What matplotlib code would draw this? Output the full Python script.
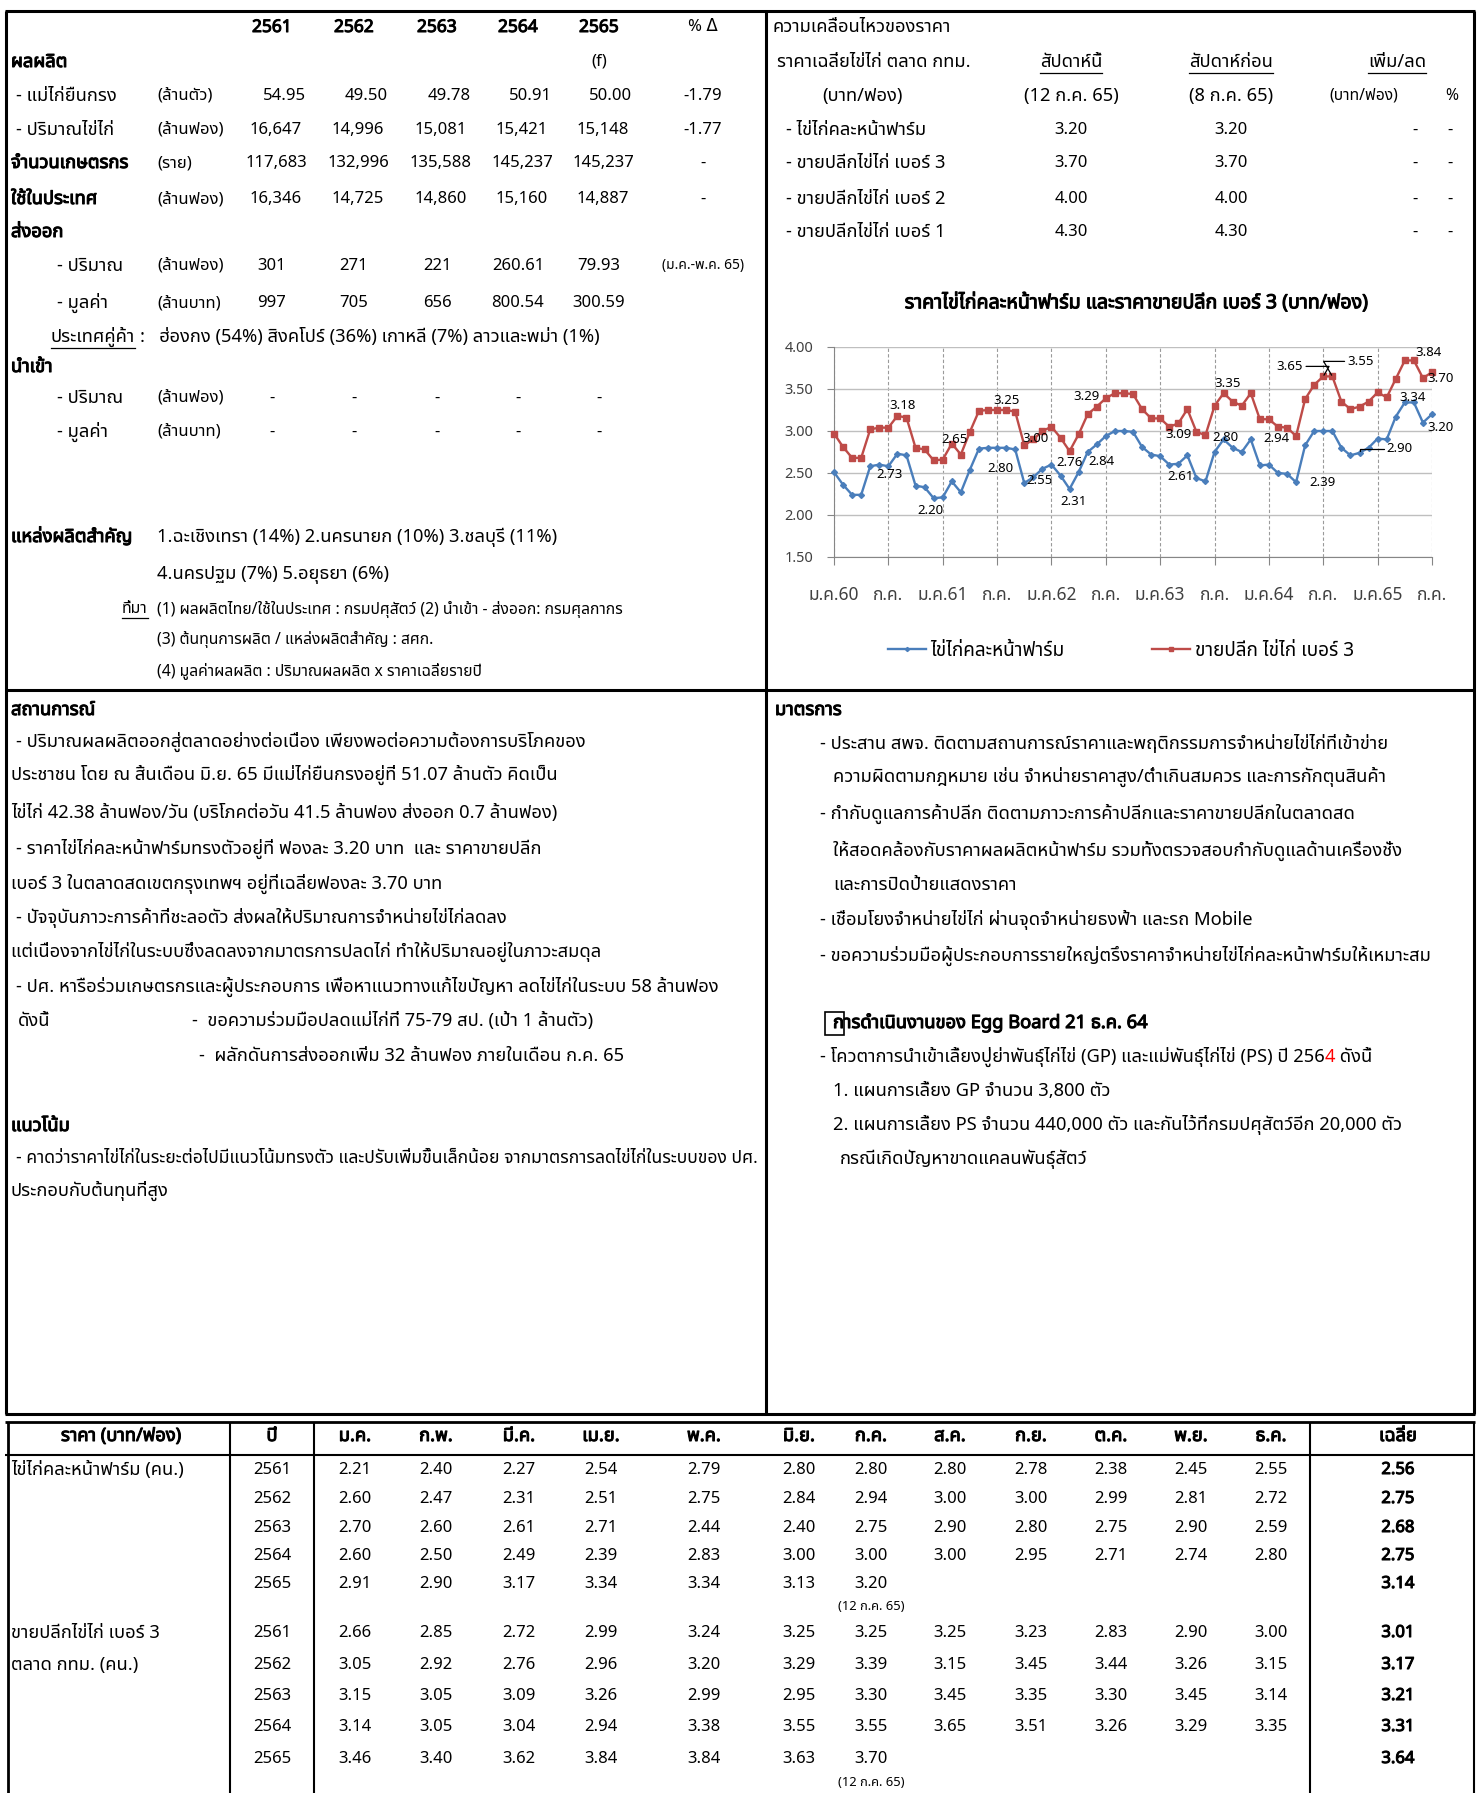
import matplotlib
matplotlib.use("Agg")
import matplotlib.pyplot as plt
import matplotlib.patheffects as pe
from matplotlib import font_manager
from matplotlib.ft2font import FT2Font
from matplotlib.patches import Rectangle


def thai_fonts():
    # หาฟอนต์ที่มีตัวอักษรไทย (ชื่อ, น้ำหนัก)
    found = []
    for f in font_manager.fontManager.ttflist:
        try:
            if FT2Font(f.fname).get_char_index(0x0E01):
                w = f.weight
                if isinstance(w, str):
                    w = font_manager.weight_dict.get(w, 400)
                found.append((f.name, w))
        except Exception:
            pass
    return found


found = thai_fonts()
names = [n for n, w in found]
THAI = "DejaVu Sans"
for p in ["Tahoma", "Leelawadee UI", "Noto Sans Thai", "Noto Sans Thai UI",
          "Sarabun", "Garuda", "Loma", "Waree", "Norasi"]:
    if p in names:
        THAI = p
        break
else:
    if names:
        THAI = names[0]
HAS_BOLD = any(n == THAI and w >= 600 for n, w in found)
plt.rcParams["font.family"] = [THAI, "DejaVu Sans"]

# ---------------- ข้อมูล ----------------
years = ["2561", "2562", "2563", "2564", "2565"]
layer_hens = ["54.95", "49.50", "49.78", "50.91", "50.00"]
egg_output = ["16,647", "14,996", "15,081", "15,421", "15,148"]
farmers = ["117,683", "132,996", "135,588", "145,237", "145,237"]
domestic_use = ["16,346", "14,725", "14,860", "15,160", "14,887"]
export_qty = ["301", "271", "221", "260.61", "79.93"]
export_val = ["997", "705", "656", "800.54", "300.59"]
import_qty = ["-", "-", "-", "-", "-"]
import_val = ["-", "-", "-", "-", "-"]

week_items = ["- ไข่ไก่คละหน้าฟาร์ม", "- ขายปลีกไข่ไก่ เบอร์ 3",
              "- ขายปลีกไข่ไก่ เบอร์ 2", "- ขายปลีกไข่ไก่ เบอร์ 1"]
this_week = [3.20, 3.70, 4.00, 4.30]
last_week = [3.20, 3.70, 4.00, 4.30]

# กราฟ ม.ค.60 - ก.ค.65 (อ่านจากกราฟ)
farm_chart = [
    2.51, 2.36, 2.24, 2.24, 2.58, 2.60, 2.58, 2.73, 2.71, 2.35, 2.33, 2.20,  # 2560
    2.21, 2.40, 2.27, 2.54, 2.79, 2.80, 2.80, 2.80, 2.78, 2.38, 2.45, 2.55,  # 2561
    2.60, 2.47, 2.31, 2.51, 2.75, 2.84, 2.94, 3.00, 3.00, 2.99, 2.81, 2.72,  # 2562
    2.70, 2.60, 2.61, 2.71, 2.44, 2.40, 2.75, 2.90, 2.80, 2.75, 2.90, 2.59,  # 2563
    2.60, 2.50, 2.49, 2.39, 2.83, 3.00, 3.00, 3.00, 2.80, 2.71, 2.74, 2.80,  # 2564
    2.91, 2.90, 3.17, 3.34, 3.34, 3.10, 3.20,                                # 2565
]
retail_chart = [
    2.97, 2.81, 2.68, 2.68, 3.02, 3.04, 3.04, 3.18, 3.16, 2.80, 2.78, 2.65,
    2.66, 2.85, 2.72, 2.99, 3.24, 3.25, 3.25, 3.25, 3.23, 2.83, 2.90, 3.00,
    3.05, 2.92, 2.76, 2.96, 3.20, 3.29, 3.39, 3.45, 3.45, 3.44, 3.26, 3.15,
    3.15, 3.05, 3.09, 3.26, 2.99, 2.95, 3.30, 3.45, 3.35, 3.30, 3.45, 3.14,
    3.14, 3.05, 3.04, 2.94, 3.38, 3.55, 3.65, 3.65, 3.35, 3.26, 3.29, 3.35,
    3.46, 3.40, 3.62, 3.84, 3.84, 3.63, 3.70,
]
xtick_labels = ["ม.ค.60", "ก.ค.", "ม.ค.61", "ก.ค.", "ม.ค.62", "ก.ค.",
                "ม.ค.63", "ก.ค.", "ม.ค.64", "ก.ค.", "ม.ค.65", "ก.ค."]
# (เดือนที่, ข้อความ, dx, dy) ป้ายข้อมูลบนกราฟ
farm_labels = [(7, "2.73", -8, -21), (11, "2.20", -3, -12), (18, "2.80", 3, -21),
               (23, "2.55", -3, -12), (26, "2.31", 4, -13), (29, "2.84", 5, -17),
               (38, "2.61", 2, -13), (44, "2.80", -7, 10), (51, "2.39", 26, 0),
               (63, "3.34", 8, 5), (66, "3.20", 9, -13)]
retail_labels = [(7, "3.18", 5, 10), (12, "2.65", 12, 20), (18, "3.25", 9, 9),
                 (23, "3.00", -7, -8), (26, "2.76", 0, -11), (29, "3.29", -10, 10),
                 (38, "3.09", 0, -11), (44, "3.35", -5, 18), (51, "2.94", -20, -2),
                 (64, "3.84", 15, 8), (66, "3.70", 9, -6)]

months = ["ม.ค.", "ก.พ.", "มี.ค.", "เม.ย.", "พ.ค.", "มิ.ย.", "ก.ค.", "ส.ค.",
          "ก.ย.", "ต.ค.", "พ.ย.", "ธ.ค."]
farm_table = [
    [2.21, 2.40, 2.27, 2.54, 2.79, 2.80, 2.80, 2.80, 2.78, 2.38, 2.45, 2.55],
    [2.60, 2.47, 2.31, 2.51, 2.75, 2.84, 2.94, 3.00, 3.00, 2.99, 2.81, 2.72],
    [2.70, 2.60, 2.61, 2.71, 2.44, 2.40, 2.75, 2.90, 2.80, 2.75, 2.90, 2.59],
    [2.60, 2.50, 2.49, 2.39, 2.83, 3.00, 3.00, 3.00, 2.95, 2.71, 2.74, 2.80],
    [2.91, 2.90, 3.17, 3.34, 3.34, 3.13, 3.20],
]
farm_avg = [2.56, 2.75, 2.68, 2.75, 3.14]
retail_table = [
    [2.66, 2.85, 2.72, 2.99, 3.24, 3.25, 3.25, 3.25, 3.23, 2.83, 2.90, 3.00],
    [3.05, 2.92, 2.76, 2.96, 3.20, 3.29, 3.39, 3.15, 3.45, 3.44, 3.26, 3.15],
    [3.15, 3.05, 3.09, 3.26, 2.99, 2.95, 3.30, 3.45, 3.35, 3.30, 3.45, 3.14],
    [3.14, 3.05, 3.04, 2.94, 3.38, 3.55, 3.55, 3.65, 3.51, 3.26, 3.29, 3.35],
    [3.46, 3.40, 3.62, 3.84, 3.84, 3.63, 3.70],
]
retail_avg = [3.01, 3.17, 3.21, 3.31, 3.64]

# ---------------- หน้ากระดาษ ----------------
W, H = 1477, 1793
fig = plt.figure(figsize=(W / 100, H / 100), dpi=100)
cv = fig.add_axes([0, 0, 1, 1])
cv.set_xlim(0, W)
cv.set_ylim(H, 0)
cv.axis("off")
renderer = fig.canvas.get_renderer()
FS = 13.2   # ข้อความไทย
NUM = 12    # ตัวเลข
SM = 11.3


def txt(x, y, s, size=FS, ha="left", bold=False, color="black"):
    kw = {}
    if bold:
        kw["fontweight"] = "bold"
        if not HAS_BOLD:
            kw["path_effects"] = [pe.withStroke(linewidth=0.75, foreground=color)]
    return cv.text(x, y, s, fontsize=size, ha=ha, va="center", color=color, **kw)


def right_edge(t):
    bb = t.get_window_extent(renderer)
    return cv.transData.inverted().transform((bb.x1, bb.y0))[0]


def fit_right(t, x_right):
    # ปรับขนาดตัวอักษรให้ข้อความจบที่ x_right
    x0 = t.get_position()[0]
    for _ in range(3):
        w = right_edge(t) - x0
        t.set_fontsize(t.get_fontsize() * (x_right - x0) / w)


def underline(t, dy=11):
    bb = t.get_window_extent(renderer)
    inv = cv.transData.inverted()
    x0 = inv.transform((bb.x0, bb.y0))[0]
    x1 = inv.transform((bb.x1, bb.y0))[0]
    y = t.get_position()[1] + dy
    cv.plot([x0, x1], [y, y], color="black", lw=0.9)


def chain(x, y, parts, size=FS):
    for s, c in parts:
        t = txt(x, y, s, size=size, color=c)
        x = right_edge(t)


def hline(y, x0, x1, lw=2.2):
    cv.plot([x0, x1], [y, y], color="black", lw=lw, solid_capstyle="butt")


def vline(x, y0, y1, lw=2.2):
    cv.plot([x, x], [y0, y1], color="black", lw=lw, solid_capstyle="butt")


# กรอบ
hline(11, 5, 1475)
hline(690, 5, 1475)
hline(1414, 5, 1475)
vline(6, 11, 1414)
vline(766, 11, 1414)
vline(1474, 11, 1414)

# ---------------- ตารางซ้ายบน ----------------
cols = [272, 354, 437, 518, 599]
pct_x = 703
for x, y in zip(cols, years):
    txt(x, 27, y, size=NUM + 0.5, ha="center", bold=True)
txt(pct_x, 27, "% Δ", size=NUM, ha="center")
txt(11, 62, "ผลผลิต", bold=True)
txt(cols[4], 62, "(f)", size=NUM, ha="center")

rows = [
    (96, "- แม่ไก่ยืนกรง", 16, False, "(ล้านตัว)", layer_hens, "-1.79", 12),
    (130, "- ปริมาณไข่ไก่", 16, False, "(ล้านฟอง)", egg_output, "-1.77", 4),
    (163, "จำนวนเกษตรกร", 11, True, "(ราย)", farmers, "-", 4),
    (199, "ใช้ในประเทศ", 11, True, "(ล้านฟอง)", domestic_use, "-", 4),
    (266, "- ปริมาณ", 57, False, "(ล้านฟอง)", export_qty, None, 0),
    (303, "- มูลค่า", 57, False, "(ล้านบาท)", export_val, None, 0),
    (398, "- ปริมาณ", 57, False, "(ล้านฟอง)", import_qty, None, 0),
    (432, "- มูลค่า", 57, False, "(ล้านบาท)", import_val, None, 0),
]
for y, label, lx, bold, unit, vals, pct, shift in rows:
    txt(lx, y, label, bold=bold)
    txt(157, y, unit, size=NUM)
    for x, v in zip(cols, vals):
        txt(x + shift, y, v, size=NUM, ha="center")
    if pct:
        txt(pct_x, y, pct, size=NUM, ha="center")
txt(11, 232, "ส่งออก", bold=True)
txt(pct_x, 266, "(ม.ค.-พ.ค. 65)", size=9.9, ha="center")
t = txt(51, 337, "ประเทศคู่ค้า")
underline(t)
txt(right_edge(t) + 5, 337, ":   ฮ่องกง (54%) สิงคโปร์ (36%) เกาหลี (7%) ลาวและพม่า (1%)")
txt(11, 367, "นำเข้า", bold=True)
txt(11, 537, "แหล่งผลิตสำคัญ", bold=True)
txt(157, 537, "1.ฉะเชิงเทรา (14%) 2.นครนายก (10%) 3.ชลบุรี (11%)")
txt(157, 575, "4.นครปฐม (7%) 5.อยุธยา (6%)")
t = txt(122, 609, "ที่มา", size=SM)
underline(t, 9)
txt(157, 609, "(1) ผลผลิตไทย/ใช้ในประเทศ : กรมปศุสัตว์ (2) นำเข้า - ส่งออก: กรมศุลกากร", size=SM)
txt(157, 640, "(3) ต้นทุนการผลิต / แหล่งผลิตสำคัญ : สศก.", size=SM)
txt(157, 671, "(4) มูลค่าผลผลิต : ปริมาณผลผลิต x ราคาเฉลี่ยรายปี", size=SM)

# ---------------- ขวาบน ----------------
txt(772, 27, "ความเคลื่อนไหวของราคา")
txt(777, 62, "ราคาเฉลี่ยไข่ไก่ ตลาด กทม.")
for x, s in [(1071, "สัปดาห์นี้"), (1231, "สัปดาห์ก่อน"), (1397, "เพิ่ม/ลด")]:
    underline(txt(x, 62, s, ha="center"))
txt(862, 96, "(บาท/ฟอง)", ha="center")
txt(1071, 96, "(12 ก.ค. 65)", ha="center")
txt(1231, 96, "(8 ก.ค. 65)", ha="center")
txt(1364, 96, "(บาท/ฟอง)", size=SM, ha="center")
txt(1452, 96, "%", size=SM, ha="center")
for y, item, a, b in zip([130, 163, 199, 232], week_items, this_week, last_week):
    txt(786, y, item)
    txt(1071, y, f"{a:.2f}", size=NUM, ha="center")
    txt(1231, y, f"{b:.2f}", size=NUM, ha="center")
    txt(1415, y, "-", size=NUM, ha="center")
    txt(1450, y, "-", size=NUM, ha="center")
txt(1137, 303, "ราคาไข่ไก่คละหน้าฟาร์ม และราคาขายปลีก เบอร์ 3 (บาท/ฟอง)",
    size=14.1, ha="center", bold=True)

# ---------------- กราฟ ----------------
BLUE = "#4a7ebb"
RED = "#be4b48"
ax = fig.add_axes([834 / W, 1 - 557 / H, 598 / W, (557 - 347) / H])
x = list(range(len(farm_chart)))
ax.plot(x, farm_chart, color=BLUE, lw=1.7, marker="D", ms=3, clip_on=False,
        label="ไข่ไก่คละหน้าฟาร์ม", zorder=3)
ax.plot(x, retail_chart, color=RED, lw=1.7, marker="s", ms=4.5, clip_on=False,
        label="ขายปลีก ไข่ไก่ เบอร์ 3", zorder=3)
ax.set_xlim(0, 66)
ax.set_ylim(1.5, 4.0)
ax.set_yticks([1.5, 2.0, 2.5, 3.0, 3.5, 4.0])
ax.set_yticklabels([f"{v:.2f}" for v in [1.5, 2.0, 2.5, 3.0, 3.5, 4.0]])
ax.set_xticks(range(0, 67, 6))
ax.set_xticklabels(xtick_labels)
ax.tick_params(axis="y", length=5, pad=10, labelsize=10.5, colors="#868686", labelcolor="#404040")
ax.tick_params(axis="x", length=6, pad=15, labelsize=12.5, colors="#868686", labelcolor="#404040")
ax.grid(axis="y", color="#bfbfbf", lw=1)
ax.grid(axis="x", color="#9a9a9a", lw=0.8, ls=(0, (3, 2)))
ax.set_axisbelow(True)
for s in ["top", "right"]:
    ax.spines[s].set_visible(False)
for s in ["left", "bottom"]:
    ax.spines[s].set_color("#868686")
ax.patch.set_alpha(0)

for series, labels in [(farm_chart, farm_labels), (retail_chart, retail_labels)]:
    for i, s, dx, dy in labels:
        ax.annotate(s, (i, series[i]), xytext=(dx, dy), textcoords="offset pixels",
                    ha="center", va="center", fontsize=9.5, annotation_clip=False)
# ป้ายที่มีเส้นโยง
lead = dict(arrowstyle="-", color="black", lw=0.9, shrinkA=0, shrinkB=1)
ax.annotate("2.90", (58, farm_chart[58]), xytext=(27, 4), textcoords="offset pixels",
            ha="left", va="center", fontsize=9.5, annotation_clip=False,
            arrowprops=dict(lead, connectionstyle="angle,angleA=0,angleB=90,rad=0"))
ax.annotate("3.65", (54, retail_chart[54]), xytext=(-20, 10), textcoords="offset pixels",
            ha="right", va="center", fontsize=9.5, annotation_clip=False,
            arrowprops=dict(lead, connectionstyle="angle,angleA=0,angleB=60,rad=0"))
ax.annotate("3.55", (55, retail_chart[55]), xytext=(15, 15), textcoords="offset pixels",
            ha="left", va="center", fontsize=9.5, annotation_clip=False,
            arrowprops=dict(lead, connectionstyle="angle,angleA=0,angleB=120,rad=0"))

ax.legend(loc="center", bbox_to_anchor=(1121 / W, 1 - 651 / H), bbox_transform=fig.transFigure,
          ncol=2, frameon=False, fontsize=13.7, handlelength=2.0, handletextpad=0.25,
          columnspacing=4.6, markerscale=0.7)

# ---------------- สถานการณ์ ----------------
txt(11, 710, "สถานการณ์", bold=True)
situation = [
    (742, 16, "- ปริมาณผลผลิตออกสู่ตลาดอย่างต่อเนื่อง เพียงพอต่อความต้องการบริโภคของ"),
    (775, 11, "ประชาชน โดย ณ สิ้นเดือน มิ.ย. 65 มีแม่ไก่ยืนกรงอยู่ที่ 51.07 ล้านตัว คิดเป็น"),
    (813, 11, "ไข่ไก่ 42.38 ล้านฟอง/วัน (บริโภคต่อวัน 41.5 ล้านฟอง ส่งออก 0.7 ล้านฟอง)"),
    (849, 16, "- ราคาไข่ไก่คละหน้าฟาร์มทรงตัวอยู่ที่ ฟองละ 3.20 บาท  และ ราคาขายปลีก"),
    (884, 11, "เบอร์ 3 ในตลาดสดเขตกรุงเทพฯ อยู่ที่เฉลี่ยฟองละ 3.70 บาท"),
    (918, 16, "- ปัจจุบันภาวะการค้าที่ชะลอตัว ส่งผลให้ปริมาณการจำหน่ายไข่ไก่ลดลง"),
    (952, 11, "แต่เนื่องจากไข่ไก่ในระบบซึ่งลดลงจากมาตรการปลดไก่ ทำให้ปริมาณอยู่ในภาวะสมดุล"),
    (987, 16, "- ปศ. หารือร่วมเกษตรกรและผู้ประกอบการ เพื่อหาแนวทางแก้ไขปัญหา ลดไข่ไก่ในระบบ 58 ล้านฟอง"),
    (1021, 18, "ดังนี้"),
    (1021, 192, "-  ขอความร่วมมือปลดแม่ไก่ที่ 75-79 สป. (เป้า 1 ล้านตัว)"),
    (1056, 199, "-  ผลักดันการส่งออกเพิ่ม 32 ล้านฟอง ภายในเดือน ก.ค. 65"),
]
for y, x0, s in situation:
    txt(x0, y, s)
txt(11, 1126, "แนวโน้ม", bold=True)
t = txt(16, 1158, "- คาดว่าราคาไข่ไก่ในระยะต่อไปมีแนวโน้มทรงตัว และปรับเพิ่มขึ้นเล็กน้อย จากมาตรการลดไข่ไก่ในระบบของ ปศ.")
fit_right(t, 758)
txt(11, 1191, "ประกอบกับต้นทุนที่สูง")

# ---------------- มาตรการ ----------------
txt(775, 710, "มาตรการ", bold=True)
measures = [
    (743, 820, "- ประสาน สพจ. ติดตามสถานการณ์ราคาและพฤติกรรมการจำหน่ายไข่ไก่ที่เข้าข่าย"),
    (777, 833, "ความผิดตามกฎหมาย เช่น จำหน่ายราคาสูง/ต่ำเกินสมควร และการกักตุนสินค้า"),
    (814, 820, "- กำกับดูแลการค้าปลีก ติดตามภาวะการค้าปลีกและราคาขายปลีกในตลาดสด"),
    (851, 833, "ให้สอดคล้องกับราคาผลผลิตหน้าฟาร์ม รวมทั้งตรวจสอบกำกับดูแลด้านเครื่องชั่ง"),
    (885, 833, "และการปิดป้ายแสดงราคา"),
    (920, 820, "- เชื่อมโยงจำหน่ายไข่ไก่ ผ่านจุดจำหน่ายธงฟ้า และรถ Mobile"),
    (956, 820, "- ขอความร่วมมือผู้ประกอบการรายใหญ่ตรึงราคาจำหน่ายไข่ไก่คละหน้าฟาร์มให้เหมาะสม"),
    (1091, 833, "1. แผนการเลี้ยง GP จำนวน 3,800 ตัว"),
    (1125, 833, "2. แผนการเลี้ยง PS จำนวน 440,000 ตัว และกันไว้ที่กรมปศุสัตว์อีก 20,000 ตัว"),
    (1159, 840, "กรณีเกิดปัญหาขาดแคลนพันธุ์สัตว์"),
]
for y, x0, s in measures:
    txt(x0, y, s)
txt(833, 1023, "การดำเนินงานของ Egg Board 21 ธ.ค. 64", bold=True)
cv.add_patch(Rectangle((825, 1012), 19, 23, fill=False, ec="black", lw=1.2))
chain(820, 1057, [("- โควตาการนำเข้าเลี้ยงปู่ย่าพันธุ์ไก่ไข่ (GP) และแม่พันธุ์ไก่ไข่ (PS) ปี 256", "black"),
                  ("4", "red"), (" ดังนี้", "black")])

# ---------------- ตารางราคารายเดือน ----------------
hline(1422, 5, 1475, lw=2)
hline(1455, 5, 1475, lw=1.5)
vline(8, 1422, 1793, lw=2)
vline(230, 1422, 1793, lw=1.5)
vline(314, 1422, 1793, lw=1.5)
vline(1310, 1422, 1793, lw=1.5)
vline(1474, 1422, 1793, lw=1.5)
mcols = [355, 436, 519, 601, 704, 799, 871, 950, 1031, 1111, 1191, 1271]
txt(121, 1436, "ราคา (บาท/ฟอง)", ha="center", bold=True)
txt(272, 1436, "ปี", ha="center", bold=True)
for x, m in zip(mcols, months):
    txt(x, 1436, m, ha="center", bold=True)
txt(1398, 1436, "เฉลี่ย", ha="center", bold=True)

farm_y = [1470, 1499, 1528, 1556, 1584]
retail_y = [1633, 1665, 1696, 1727, 1759]
txt(11, farm_y[0], "ไข่ไก่คละหน้าฟาร์ม (คน.)")
txt(11, retail_y[0], "ขายปลีกไข่ไก่ เบอร์ 3")
txt(11, retail_y[1], "ตลาด กทม. (คน.)")
for ys, table, avg in [(farm_y, farm_table, farm_avg), (retail_y, retail_table, retail_avg)]:
    for y, yr, vals, a in zip(ys, years, table, avg):
        txt(272, y, yr, size=NUM, ha="center")
        for x, v in zip(mcols, vals):
            txt(x, y, f"{v:.2f}", size=NUM, ha="center")
        txt(1398, y, f"{a:.2f}", size=NUM, ha="center", bold=True)
    txt(mcols[6], ys[-1] + 23, "(12 ก.ค. 65)", size=9.3, ha="center")

fig.savefig("out.png", dpi=100)
